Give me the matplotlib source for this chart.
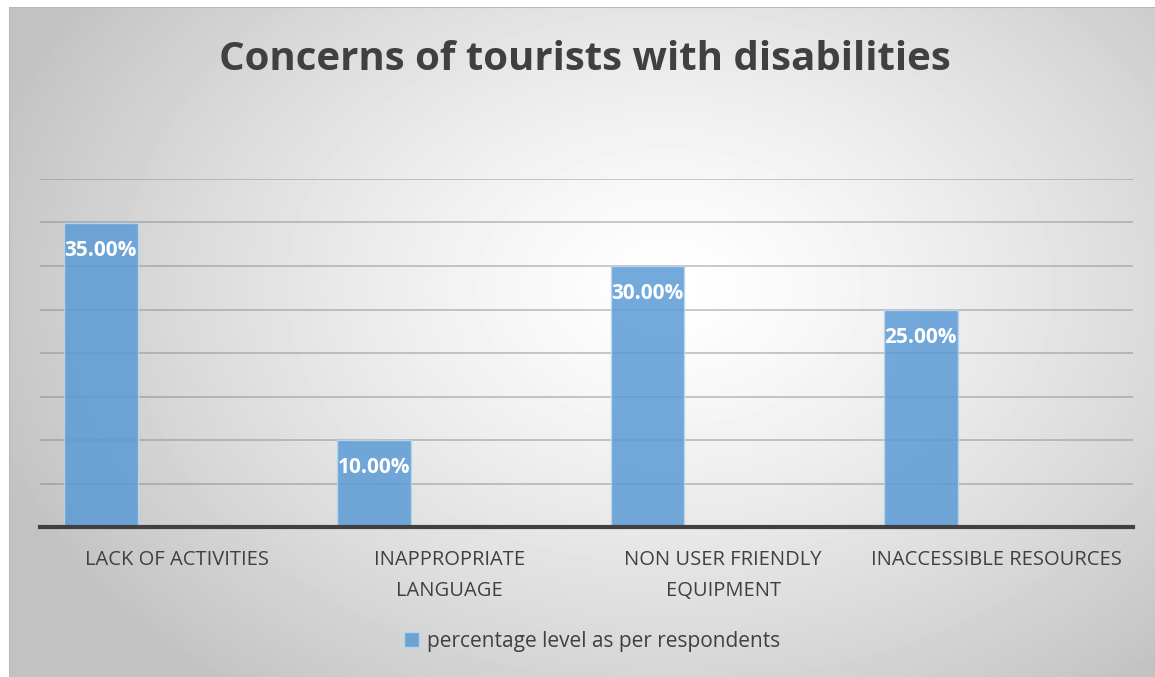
import matplotlib.pyplot as plt
import numpy as np

categories = ['LACK OF ACTIVITIES', 'INAPPROPRIATE\nLANGUAGE',
              'NON USER FRIENDLY\nEQUIPMENT', 'INACCESSIBLE RESOURCES']
values = [0.35, 0.10, 0.30, 0.25]
series_name = 'percentage level as per respondents'

W, H = 1155, 677
fig = plt.figure(figsize=(W / 100, H / 100), dpi=100)
fig.patch.set_facecolor('white')

# radial gradient background for the chart area
bg = fig.add_axes([9 / W, 0, 1 - 9 / W, 1 - 7 / H])
bg.set_axis_off()
yy, xx = np.mgrid[0:670, 0:1146]
cx, cy = 660, 280
r = np.sqrt(((xx - cx) / 720.0) ** 2 + ((yy - cy) / 520.0) ** 2)
shade = 1.0 - 0.24 * np.clip(r, 0, 1) ** 1.3
bg.imshow(shade, cmap='gray', vmin=0, vmax=1, aspect='auto',
          extent=[0, 1, 0, 1], origin='upper')
bg.set_xlim(0, 1)
bg.set_ylim(0, 1)
bg.plot([0, 1], [1, 1], color='#b8b8b8', lw=1.5)
bg.plot([0, 0], [0, 1], color='#b8b8b8', lw=1.5)

ax = fig.add_axes([40 / W, 1 - 527 / H, 1093 / W, (527 - 179) / H])
ax.patch.set_alpha(0)
x = np.arange(len(categories))
bw = 0.27
bars = ax.bar(x - 0.277, values, width=bw, color='#5b9bd5', alpha=0.85,
              edgecolor='#bdd7ee', linewidth=1.0, label=series_name, zorder=3)
ax.set_xlim(-0.5, len(categories) - 0.5)
ax.set_ylim(0, 0.40)
ax.set_yticks(np.arange(0.05, 0.41, 0.05))
ax.yaxis.grid(True, color='#7f7f7f', alpha=0.45, lw=1.3)
ax.tick_params(axis='y', left=False, labelleft=False)
ax.tick_params(axis='x', bottom=False, pad=13)
ax.set_xticks(x)
ax.set_xticklabels(categories, fontsize=14.5, color='#404040',
                   family='Open Sans', linespacing=1.75)
for s in ['top', 'right', 'left']:
    ax.spines[s].set_visible(False)
ax.spines['bottom'].set_color('#404040')
ax.spines['bottom'].set_linewidth(3)
ax.spines['bottom'].set_zorder(4)

for b, v in zip(bars, values):
    ax.annotate('{:.2f}%'.format(v * 100),
                (b.get_x() + b.get_width() / 2, v), xytext=(0, -20),
                textcoords='offset points', ha='center', va='center',
                color='white', fontsize=15, fontweight='bold',
                family='Open Sans', zorder=5)

fig.text(585 / W, 1 - 60 / H, 'Concerns of tourists with disabilities',
         ha='center', va='center', fontsize=29, fontweight='bold',
         color='#404040', family='Open Sans')

leg = fig.legend(handles=[bars], labels=[series_name], loc='center',
                 bbox_to_anchor=(592 / W, 1 - 641 / H), frameon=False,
                 prop={'family': 'Open Sans', 'size': 15},
                 handlelength=0.7, handleheight=0.7, handletextpad=0.4)
for t in leg.get_texts():
    t.set_color('#404040')

fig.savefig('out.png', dpi=100)
